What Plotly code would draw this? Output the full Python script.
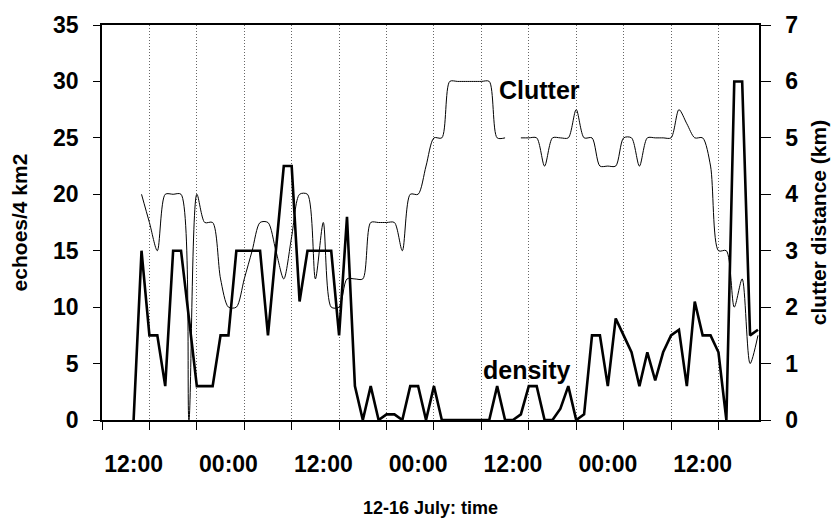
import pandas as pd
import plotly.graph_objects as go

# ---- data (hourly) ----
# echo density (echoes / 4 km2), hourly from 12 July 12:00
density = [0, 15, 7.5, 7.5, 3, 15, 15, 9, 3, 3, 3, 7.5, 7.5, 15, 15, 15, 15, 7.5, 15, 22.5,
           22.5, 10.5, 15, 15, 15, 15, 7.5, 18, 3, 0, 3, 0, 0.5, 0.5, 0, 3, 3, 0, 3, 0,
           0, 0, 0, 0, 0, 0, 3, 0, 0, 0.5, 3, 3, 0, 0, 1, 3, 0, 0.5, 7.5, 7.5,
           3, 9, 7.5, 6, 3, 6, 3.5, 6, 7.5, 8, 3, 10.5, 7.5, 7.5, 6, 0, 30, 30, 7.5, 8]
density_start = "2003-07-12 12:00"

# clutter distance (km), hourly from 12 July 13:00 (None = missing)
clutter = [4.0, 3.5, 3.0, 4.0, 4.0, 4.0, 0, 4.0, 3.5, 3.5, 2.5, 2.0, 2.0, 2.5, 3.0, 3.5,
           3.5, 3.0, 2.5, 3.25, 4.0, 4.0, 2.5, 3.5, 2.0, 2.0, 2.5, 2.5, 2.5, 3.5, 3.5, 3.5,
           3.5, 3.0, 4.0, 4.0, 4.5, 5.0, 5.0, 6.0, 6.0, 6.0, 6.0, 6.0, 6.0, 5.0, 5.0, None,
           5.0, 5.0, 5.0, 4.5, 5.0, 5.0, 5.0, 5.5, 5.0, 5.0, 4.5, 4.5, 4.5, 5.0, 5.0, 4.5,
           5.0, 5.0, 5.0, 5.0, 5.5, 5.25, 5.0, 5.0, 4.5, 3.0, 3.0, 2.0, 2.5, 1.0, 1.5]
clutter_start = "2003-07-12 13:00"

axis_start = pd.Timestamp("2003-07-12 08:00")
axis_hours = 83.13
first_label = "2003-07-12 12:00"

density_t = pd.date_range(density_start, periods=len(density), freq="h")
clutter_t = pd.date_range(clutter_start, periods=len(clutter), freq="h")
axis_end = axis_start + pd.Timedelta(hours=axis_hours)

FONT = "Liberation Sans, Arial, sans-serif"
tickf = dict(family=FONT, size=23, color="black", weight="bold")
annf = dict(family=FONT, size=25, color="black", weight="bold")
titlef = dict(family=FONT, size=18, color="black", weight="bold")
ytitlef = dict(family=FONT, size=21, color="black", weight="bold")

fig = go.Figure()
fig.add_trace(go.Scatter(x=density_t, y=density, mode="lines", name="density",
                         line=dict(color="black", width=2.6), yaxis="y"))
fig.add_trace(go.Scatter(x=clutter_t, y=clutter, mode="lines", name="Clutter",
                         line=dict(color="black", width=1, shape="spline", smoothing=0.8),
                         connectgaps=False, yaxis="y2"))

fig.add_annotation(x=pd.Timestamp("2003-07-14 15:20"), y=5.84, xref="x", yref="y2",
                   text="Clutter", showarrow=False, font=annf)
fig.add_annotation(x=pd.Timestamp("2003-07-14 13:50"), y=4.45, xref="x", yref="y",
                   text="density", showarrow=False, font=annf)

fig.update_layout(
    width=839, height=527,
    margin=dict(l=101.5, r=74, t=22, b=102),
    paper_bgcolor="white", plot_bgcolor="white",
    showlegend=False,
    xaxis=dict(
        type="date", range=[axis_start, axis_end],
        tick0=first_label, dtick=12 * 3600 * 1000, tickformat="%H:%M",
        ticks="", tickfont=tickf, ticklabelstandoff=22,
        showgrid=False, zeroline=False, layer="above traces",
        showline=True, linecolor="black", linewidth=1.8, mirror=True,
        minor=dict(tick0=axis_start, dtick=6 * 3600 * 1000, ticks="outside", ticklen=8,
                   tickcolor="black", tickwidth=1,
                   showgrid=True, griddash="1px,2px", gridcolor="#666", gridwidth=1),
        title=dict(text="12-16 July: time", font=titlef, standoff=26),
    ),
    yaxis=dict(
        range=[0, 35], dtick=5, ticks="outside", ticklen=7, tickcolor="black",
        tickfont=tickf, ticklabelstandoff=10,
        showgrid=False, zeroline=False,
        showline=True, linecolor="black", linewidth=1.5,
        title=dict(text="echoes/4 km2", font=ytitlef, standoff=20),
    ),
    yaxis2=dict(
        range=[0, 7], dtick=1, overlaying="y", side="right",
        ticks="outside", ticklen=10, tickcolor="black",
        tickfont=tickf, ticklabelstandoff=10,
        showgrid=False, zeroline=False,
        showline=True, linecolor="black", linewidth=1.5,
        title=dict(text="clutter distance (km)", font=ytitlef, standoff=14),
    ),
)

fig.write_html("out.html")
